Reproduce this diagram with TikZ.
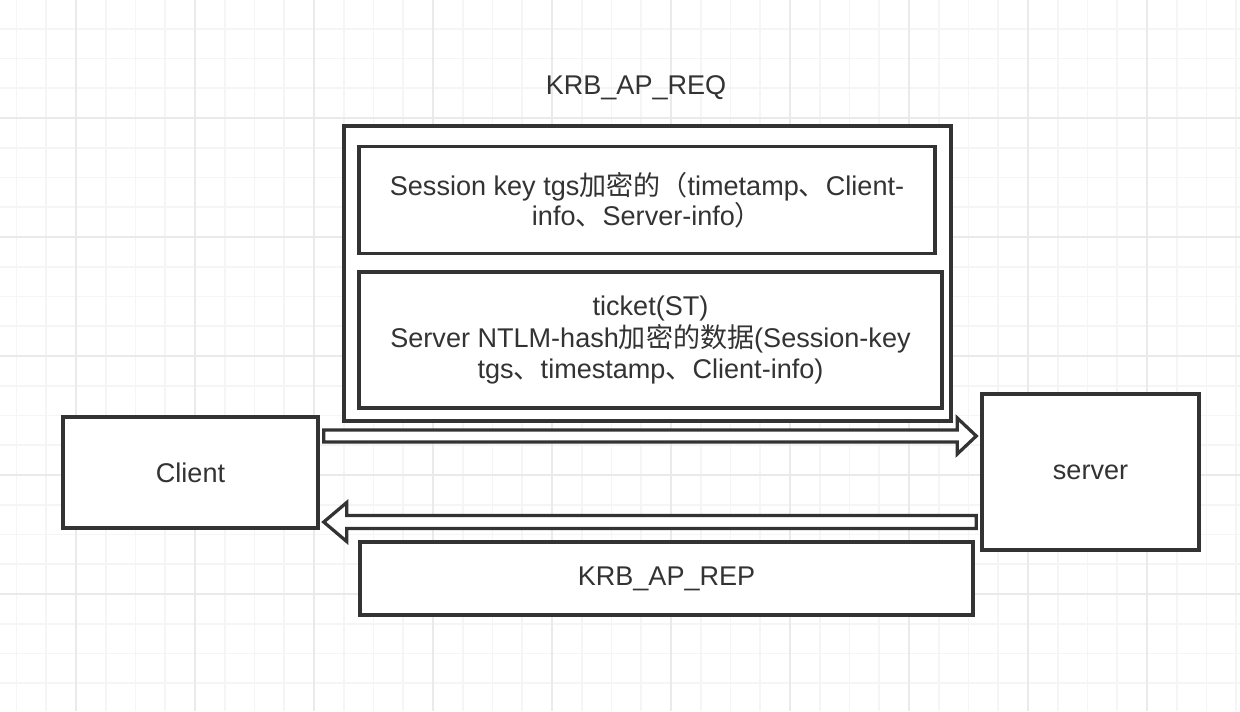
\documentclass[tikz,border=0pt]{standalone}
\usepackage{fontspec}
\setmainfont{Liberation Sans}
\newfontfamily\cjk{Noto Sans CJK SC}
\usetikzlibrary{calc}
\definecolor{ink}{HTML}{333333}
\definecolor{gridminor}{HTML}{F5F5F5}
\definecolor{gridmajor}{HTML}{EAEAEA}

\begin{document}
\begin{tikzpicture}[
  x=0.02cm, y=-0.02cm,
  box/.style={rectangle, draw=ink, line width=0.07cm, fill=white, text=ink, align=center,
              font=\fontsize{15.4}{17.2}\selectfont, inner sep=0pt},
  label/.style={text=ink, font=\fontsize{15.4}{17.2}\selectfont},
  hollow/.style={draw=ink, fill=white, line width=0.065cm, line join=miter}
]
  \useasboundingbox (0,0) rectangle (1240,711);
  \fill[white] (0,0) rectangle (1240,711);
  \foreach \i in {0,...,41} {
    \draw[gridminor, line width=0.035cm] ({16.5+29.75*\i},0) -- ({16.5+29.75*\i},711);
  }
  \foreach \i in {0,...,24} {
    \draw[gridminor, line width=0.035cm] (0,{-1+29.75*\i}) -- (1240,{-1+29.75*\i});
  }
  \foreach \i in {0,...,10} {
    \draw[gridmajor, line width=0.035cm] ({76+119*\i},0) -- ({76+119*\i},711);
  }
  \foreach \i in {1,...,5} {
    \draw[gridmajor, line width=0.035cm] (0,{-1+119*\i}) -- (1240,{-1+119*\i});
  }

  \node[label] (reqtitle) at (636,88) {KRB\_AP\_REQ};
  \node[box, minimum width=12.14cm, minimum height=5.9cm] (req) at (647.5,273.5) {};
  \node[box, minimum width=11.52cm, minimum height=2.14cm] (authbox) at (647,200)
    {Session key tgs{\cjk 加密的（}timetamp{\cjk 、}Client-\\info{\cjk 、}Server-info{\cjk ）}};
  \node[box, minimum width=11.66cm, minimum height=2.72cm, font=\fontsize{15.4}{18.2}\selectfont] (ticket) at (650.5,340)
    {ticket(ST)\\Server NTLM-hash{\cjk 加密的数据}(Session-key\\tgs{\cjk 、}timestamp{\cjk 、}Client-info)};
  \node[box, minimum width=5.1cm, minimum height=2.22cm] (client) at (190.5,472.5) {Client};
  \node[box, minimum width=4.34cm, minimum height=3.12cm] (server) at (1090.5,472) {server};
  \node[box, minimum width=12.26cm, minimum height=1.46cm] (rep) at (666.5,578.5) {KRB\_AP\_REP};

  % request arrow
  \coordinate (reqy) at (0,436);
  \draw[hollow] let \p1=($(client.east|-reqy)+(4,0)$), \p2=($(server.west|-reqy)+(-4,0)$) in
    (\x1,\y1+0.12cm) -- (\x2-0.38cm,\y1+0.12cm) -- (\x2-0.38cm,\y1+0.36cm) -- (\x2,\y1)
    -- (\x2-0.38cm,\y1-0.36cm) -- (\x2-0.38cm,\y1-0.12cm) -- (\x1,\y1-0.12cm) -- cycle;
  % reply arrow
  \coordinate (repy) at (0,522);
  \draw[hollow] let \p1=($(server.west|-repy)+(-4,0)$), \p2=($(client.east|-repy)+(4,0)$) in
    (\x1,\y1+0.13cm) -- (\x2+0.46cm,\y1+0.13cm) -- (\x2+0.46cm,\y1+0.39cm) -- (\x2,\y1)
    -- (\x2+0.46cm,\y1-0.39cm) -- (\x2+0.46cm,\y1-0.13cm) -- (\x1,\y1-0.13cm) -- cycle;
\end{tikzpicture}
\end{document}
